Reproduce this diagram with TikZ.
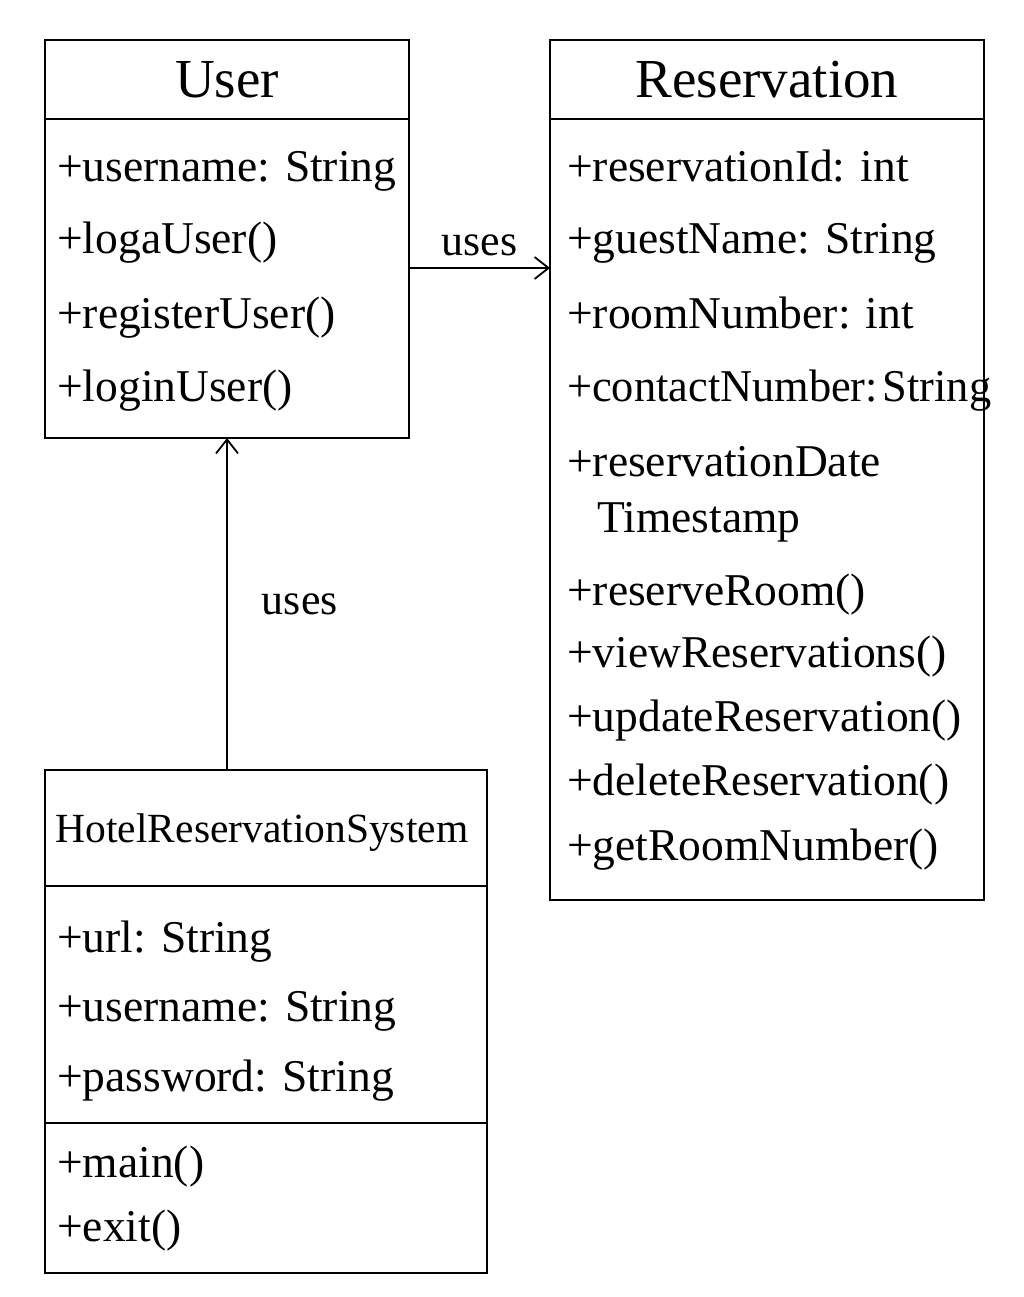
\documentclass[tikz,border=0pt]{standalone}
\usepackage{fontspec}
\setmainfont{Liberation Serif}
\usetikzlibrary{arrows.meta,positioning,calc}

\begin{document}
\begin{tikzpicture}[
    x=1pt, y=-1pt,
    box/.style={draw, line width=1.8pt, inner sep=0pt, outer sep=0pt},
    head/.style={box, text depth=0pt},
    member/.style={font=\fontsize{45.5}{54}\selectfont, anchor=base west, inner sep=0pt},
    lbl/.style={font=\fontsize{44}{52}\selectfont, inner sep=0pt},
    arr/.style={-{Straight Barb[length=14pt, width=22pt]}, line width=1.8pt}
]
\useasboundingbox (0,0) rectangle (1024,1297);

\node[head, minimum width=364pt, minimum height=79pt, font=\fontsize{55}{62}\selectfont] (userhead) at (227,79.5) {User};
\node[box, minimum width=364pt, minimum height=319pt, below=0pt of userhead] (user) {};

\node[head, minimum width=434pt, minimum height=79pt, font=\fontsize{55}{62}\selectfont] (reshead) at (767,79.5) {Reservation};
\node[box, minimum width=434pt, minimum height=781pt, below=0pt of reshead] (res) {};

\node[head, minimum width=442pt, minimum height=116pt, font=\fontsize{41.5}{48}\selectfont] (hrshead) at (266,828) {\hspace{-8pt}HotelReservationSystem};
\node[box, minimum width=442pt, minimum height=237pt, below=0pt of hrshead] (hrs) {};
\node[box, minimum width=442pt, minimum height=150pt, below=0pt of hrs] (hrsops) {};

\foreach \txt/\yy [count=\i] in {+username: String/182, +logaUser()/254, +registerUser()/328, +loginUser()/401}
    \node[member] (um\i) at (57,\yy) {\txt};

\foreach \txt/\yy [count=\i] in {+reservationId: int/182, +guestName: String/254, +roomNumber: int/328,
    \scalebox{0.975}[1]{+contactNumber:\hspace{5pt}String}/401, +reservationDate/476, +reserveRoom()/605,
    +viewReservations()/667, +updateReservation()/731, +deleteReservation()/795, +getRoomNumber()/860}
    \node[member] (rm\i) at (567,\yy) {\txt};
\node[member] (rmts) at (597,532) {Timestamp};

\foreach \txt/\yy [count=\i] in {+url: String/952, +username: String/1021, +password: String/1091, +main()/1177, +exit()/1241}
    \node[member] (hm\i) at (57,\yy) {\txt};

\coordinate (ua) at ([yshift=10.5pt]user.east);
\draw[arr] (ua) -- (ua -| res.west) node[midway, above=11pt, lbl] {uses};
\draw[arr] (user.south |- hrshead.north) -- (user.south) node[midway, right=34pt, lbl] {uses};
\end{tikzpicture}
\end{document}
